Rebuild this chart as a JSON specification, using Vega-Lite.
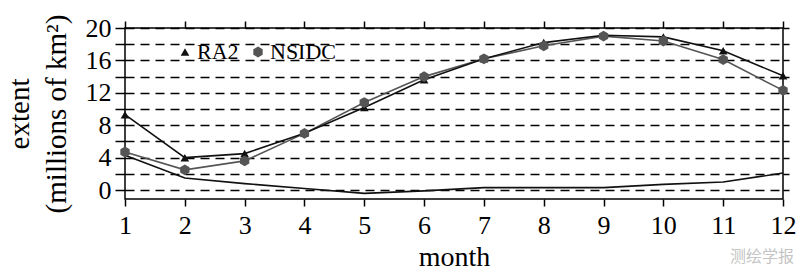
{
  "$schema": "https://vega.github.io/schema/vega-lite/v6.json",
  "autosize": "none",
  "width": 658,
  "height": 171,
  "padding": {"left": 125, "top": 28, "right": 17, "bottom": 80},
  "background": "white",
  "config": {
    "font": "Liberation Serif",
    "view": {"stroke": "black", "strokeWidth": 1.5},
    "axis": {"domain": false, "tickColor": "black", "tickWidth": 1.5, "labelColor": "black", "titleColor": "black", "labelFont": "Liberation Serif", "titleFont": "Liberation Serif", "titleFontWeight": "normal"}
  },
  "title": {"text": "测绘学报", "orient": "bottom", "anchor": "end", "frame": "bounds", "font": "Noto Sans CJK SC", "fontSize": 16, "fontWeight": "normal", "color": "#c4c4c4", "offset": -22, "dx": -2},
  "data": {"values": [
    {"month": 1, "series": "RA2", "extent": 9.3},
    {"month": 2, "series": "RA2", "extent": 4.0},
    {"month": 3, "series": "RA2", "extent": 4.5},
    {"month": 4, "series": "RA2", "extent": 7.0},
    {"month": 5, "series": "RA2", "extent": 10.2},
    {"month": 6, "series": "RA2", "extent": 13.6},
    {"month": 7, "series": "RA2", "extent": 16.2},
    {"month": 8, "series": "RA2", "extent": 18.2},
    {"month": 9, "series": "RA2", "extent": 19.1},
    {"month": 10, "series": "RA2", "extent": 18.9},
    {"month": 11, "series": "RA2", "extent": 17.2},
    {"month": 12, "series": "RA2", "extent": 14.1},
    {"month": 1, "series": "NSIDC", "extent": 4.7},
    {"month": 2, "series": "NSIDC", "extent": 2.5},
    {"month": 3, "series": "NSIDC", "extent": 3.6},
    {"month": 4, "series": "NSIDC", "extent": 7.0},
    {"month": 5, "series": "NSIDC", "extent": 10.8},
    {"month": 6, "series": "NSIDC", "extent": 14.0},
    {"month": 7, "series": "NSIDC", "extent": 16.2},
    {"month": 8, "series": "NSIDC", "extent": 17.8},
    {"month": 9, "series": "NSIDC", "extent": 19.0},
    {"month": 10, "series": "NSIDC", "extent": 18.4},
    {"month": 11, "series": "NSIDC", "extent": 16.1},
    {"month": 12, "series": "NSIDC", "extent": 12.3},
    {"month": 1, "series": "diff", "extent": 4.3},
    {"month": 2, "series": "diff", "extent": 1.5},
    {"month": 3, "series": "diff", "extent": 0.8},
    {"month": 4, "series": "diff", "extent": 0.2},
    {"month": 5, "series": "diff", "extent": -0.4},
    {"month": 6, "series": "diff", "extent": -0.1},
    {"month": 7, "series": "diff", "extent": 0.3},
    {"month": 8, "series": "diff", "extent": 0.3},
    {"month": 9, "series": "diff", "extent": 0.3},
    {"month": 10, "series": "diff", "extent": 0.7},
    {"month": 11, "series": "diff", "extent": 1.0},
    {"month": 12, "series": "diff", "extent": 2.1}
  ]},
  "resolve": {"axis": {"x": "independent", "y": "independent"}},
  "layer": [
    {
      "transform": [{"filter": "datum.series === 'NSIDC'"}],
      "mark": {"type": "line", "strokeWidth": 1.6, "color": "#555555"},
      "encoding": {
        "x": {"field": "month", "type": "quantitative", "scale": {"domain": [1, 12], "nice": false, "zero": false},
              "axis": {"orient": "bottom", "values": [1,2,3,4,5,6,7,8,9,10,11,12], "tickSize": 7, "labelPadding": 6, "labelFontSize": 26, "title": "month", "titleFontSize": 28, "titlePadding": 5, "grid": false, "labelFlush": false}},
        "y": {"field": "extent", "type": "quantitative", "scale": {"domain": [-1.1, 20], "nice": false, "zero": false},
              "axis": {"orient": "left", "values": [0,2,4,6,8,10,12,14,16,18,20], "labelExpr": "datum.value % 4 === 0 ? datum.label : ''", "tickSize": 10, "labelPadding": 4, "labelFontSize": 26, "title": ["extent", "(millions of km²)"], "titleFontSize": 29, "titleLineHeight": 37, "titlePadding": 14, "grid": true, "gridColor": "black", "gridDash": [9, 6], "gridWidth": 1.5}}
      }
    },
    {
      "transform": [{"filter": "datum.series === 'RA2'"}],
      "mark": {"type": "line", "strokeWidth": 1.6, "color": "#111111"},
      "encoding": {
        "x": {"field": "month", "type": "quantitative", "axis": null},
        "y": {"field": "extent", "type": "quantitative", "axis": null}
      }
    },
    {
      "transform": [{"filter": "datum.series === 'diff'"}],
      "mark": {"type": "line", "strokeWidth": 1.6, "color": "#111111"},
      "encoding": {
        "x": {"field": "month", "type": "quantitative", "axis": {"orient": "top", "values": [1,2,3,4,5,6,7,8,9,10,11,12], "labels": false, "tickSize": 7, "title": null, "grid": false}},
        "y": {"field": "extent", "type": "quantitative", "axis": {"orient": "right", "values": [0,2,4,6,8,10,12,14,16,18,20], "labels": false, "tickSize": 6, "title": null, "grid": false}}
      }
    },
    {
      "transform": [{"filter": "datum.series !== 'diff'"}],
      "mark": {"type": "point", "filled": true, "opacity": 1, "size": 75},
      "encoding": {
        "x": {"field": "month", "type": "quantitative", "axis": null},
        "y": {"field": "extent", "type": "quantitative", "axis": null},
        "color": {"field": "series", "type": "nominal", "scale": {"domain": ["RA2", "NSIDC"], "range": ["#111111", "#555555"]},
                  "legend": {"title": null, "orient": "none", "legendX": 49, "legendY": 13, "direction": "horizontal", "labelFontSize": 22, "labelFont": "Liberation Serif", "labelColor": "black", "labelOffset": 1, "columnPadding": 8, "padding": 0, "symbolSize": 75, "symbolStrokeWidth": 0}},
        "shape": {"field": "series", "type": "nominal", "scale": {"domain": ["RA2", "NSIDC"], "range": ["triangle-up", "M0,-1.25L1.08,-0.62L1.08,0.62L0,1.25L-1.08,0.62L-1.08,-0.62Z"]}}
      }
    }
  ]
}
